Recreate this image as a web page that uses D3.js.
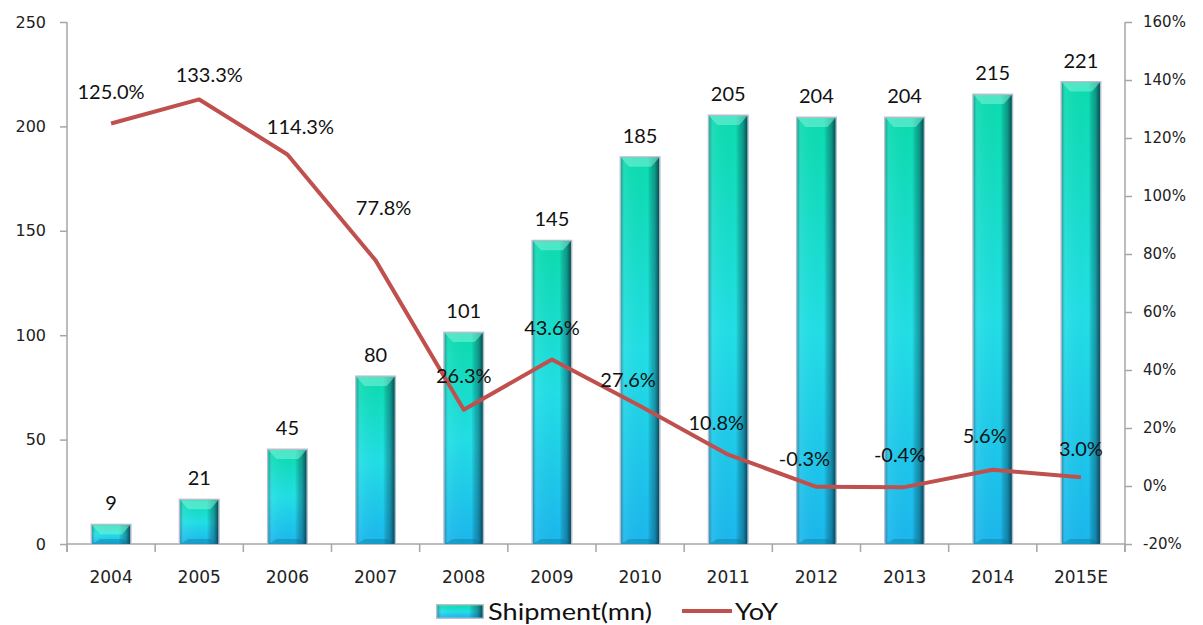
<!DOCTYPE html>
<html><head><meta charset="utf-8">
<script src="https://cdn.jsdelivr.net/npm/d3@7"></script>
<style>
body{margin:0;background:#fff;}
svg{display:block;}
</style></head>
<body>
<svg id="chart" width="1203" height="625"></svg>
<script>
const categories = ["2004","2005","2006","2007","2008","2009","2010","2011","2012","2013","2014","2015E"];
const shipment = [9,21,45,80,101,145,185,205,204,204,215,221];
const yoy = [125.0,133.3,114.3,77.8,26.3,43.6,27.6,10.8,-0.3,-0.4,5.6,3.0];
const leftTicks = [0,50,100,150,200,250];
const rightTicks = [-20,0,20,40,60,80,100,120,140,160];
const seriesNames = ["Shipment(mn)","YoY"];
// manual nudges of YoY labels (dx, dy) as placed in the original
const yoyLabelNudge = [[0,-32],[10,-24],[13,-28],[8,-52],[0,-34],[0,-32],[-12,-26],[-12,-32],[-12,-28],[-5,-32],[-8,-34],[0,-28]];

const svg = d3.select("#chart");
const X0 = 67, X1 = 1125, Y0 = 544, Y1 = 22;
const x = d3.scaleBand().domain(categories).range([X0, X1]);
const yL = d3.scaleLinear().domain([0,250]).range([Y0, Y1]);
const yR = d3.scaleLinear().domain([-20,160]).range([Y0, Y1]);

const defs = svg.append("defs");
const gv = defs.append("linearGradient").attr("id","gv").attr("x1",0).attr("y1",0).attr("x2",0).attr("y2",1);
gv.append("stop").attr("offset","0%").attr("stop-color","#0cdcae");
gv.append("stop").attr("offset","50%").attr("stop-color","#22dfe6");
gv.append("stop").attr("offset","100%").attr("stop-color","#1bb7ee");
const gh = defs.append("linearGradient").attr("id","gh").attr("x1",0).attr("y1",0).attr("x2",1).attr("y2",0);
gh.append("stop").attr("offset","0%").attr("stop-color","#0a3c50").attr("stop-opacity",0.35);
gh.append("stop").attr("offset","12%").attr("stop-color","#ffffff").attr("stop-opacity",0.05);
gh.append("stop").attr("offset","70%").attr("stop-color","#000").attr("stop-opacity",0);
gh.append("stop").attr("offset","88%").attr("stop-color","#0a3c50").attr("stop-opacity",0.4);
gh.append("stop").attr("offset","100%").attr("stop-color","#062a35").attr("stop-opacity",0.8);

// axes
const axisColor = "#a6a6a6";
const gAx = svg.append("g");
const leftAxis = d3.axisLeft(yL).tickValues(leftTicks).tickSize(7).tickPadding(14);
gAx.append("g").attr("transform",`translate(${X0},0)`).call(leftAxis)
  .call(g=>{g.select(".domain").attr("stroke",axisColor).attr("stroke-width",1.5).attr("d",`M0,${Y1}V${Y0+8}`);
    g.selectAll(".tick line").attr("stroke",axisColor).attr("stroke-width",1.5);
    g.selectAll(".tick text").attr("fill","#222").style("font-family","DejaVu Sans").style("font-size","16px");});
const rightAxis = d3.axisRight(yR).tickValues(rightTicks).tickSize(7).tickPadding(11).tickFormat(d=>d+"%");
gAx.append("g").attr("transform",`translate(${X1},0)`).call(rightAxis)
  .call(g=>{g.select(".domain").attr("stroke",axisColor).attr("stroke-width",1.5).attr("d",`M0,${Y1}V${Y0+8}`);
    g.selectAll(".tick line").attr("stroke",axisColor).attr("stroke-width",1.5);
    g.selectAll(".tick text").attr("fill","#222").style("font-family","DejaVu Sans").style("font-size","15px");});
// category axis
const gx = gAx.append("g").attr("transform",`translate(0,${Y0})`);
gx.append("line").attr("x1",X0).attr("x2",X1).attr("stroke",axisColor).attr("stroke-width",1.5);
const bounds = categories.map(c=>x(c)).concat([X1]);
gx.selectAll("line.tk").data(bounds).join("line").attr("class","tk")
  .attr("x1",d=>d).attr("x2",d=>d).attr("y1",0).attr("y2",8).attr("stroke",axisColor).attr("stroke-width",1.5);
gx.selectAll("text").data(categories).join("text")
  .attr("x",d=>x(d)+x.bandwidth()/2).attr("y",39).attr("text-anchor","middle")
  .style("font-family","DejaVu Sans").style("font-size","17px").attr("fill","#222").text(d=>d);

// bars
const bw = 38;
const gb = svg.append("g");
categories.forEach((c,i)=>{
  const cx = x(c)+x.bandwidth()/2, top = yL(shipment[i]), h = Y0-top, l = cx-bw/2;
  const g = gb.append("g");
  g.append("rect").attr("x",l-1.5).attr("y",top-1.5).attr("width",bw+3).attr("height",h+1.5).attr("fill","#b8bccb");
  g.append("rect").attr("x",l).attr("y",top).attr("width",bw).attr("height",h).attr("fill","url(#gv)");
  g.append("rect").attr("x",l).attr("y",top).attr("width",bw).attr("height",h).attr("fill","url(#gh)");
  const bv = Math.min(9, h/2);
  g.append("path").attr("d",`M${l},${top}H${l+bw}L${l+bw-8},${top+bv}H${l+8}Z`).attr("fill","#7ff3da").attr("opacity",0.55);
  g.append("path").attr("d",`M${l},${Y0}H${l+bw}L${l+bw-8},${Y0-Math.min(5,h/3)}H${l+8}Z`).attr("fill","#0b6d8a").attr("opacity",0.35);
  g.append("text").attr("x",cx).attr("y",top-15).attr("text-anchor","middle")
    .style("font-family","Lato, 'Open Sans', sans-serif").style("font-size","20px").attr("fill","#111").text(shipment[i]);
});

// line
const line = d3.line().x((d,i)=>x(categories[i])+x.bandwidth()/2).y(d=>yR(d));
svg.append("path").datum(yoy).attr("d",line).attr("fill","none").attr("stroke","#c0504d").attr("stroke-width",4).attr("stroke-linejoin","round");
svg.append("g").selectAll("text").data(yoy).join("text")
  .attr("x",(d,i)=>x(categories[i])+x.bandwidth()/2+yoyLabelNudge[i][0])
  .attr("y",(d,i)=>yR(d)+yoyLabelNudge[i][1]+7)
  .attr("text-anchor","middle").style("font-family","Lato, 'Open Sans', sans-serif").style("font-size","20px").attr("fill","#111")
  .text(d=>d.toFixed(1)+"%");

// legend
const lg = svg.append("g");
lg.append("rect").attr("x",436).attr("y",604).attr("width",48).attr("height",15).attr("fill","#b8bccb");
lg.append("rect").attr("x",437.5).attr("y",605.5).attr("width",45).attr("height",12).attr("fill","url(#gv)");
lg.append("rect").attr("x",437.5).attr("y",605.5).attr("width",45).attr("height",12).attr("fill","url(#gh)");
lg.append("text").attr("x",488).attr("y",620).attr("textLength",164).attr("lengthAdjust","spacingAndGlyphs")
  .style("font-family","Lato, 'Open Sans', sans-serif").style("font-size","24px").attr("fill","#111").text(seriesNames[0]);
lg.append("line").attr("x1",682).attr("x2",732).attr("y1",611).attr("y2",611).attr("stroke","#c0504d").attr("stroke-width",4);
lg.append("text").attr("x",735).attr("y",620).attr("textLength",43).attr("lengthAdjust","spacingAndGlyphs")
  .style("font-family","Lato, 'Open Sans', sans-serif").style("font-size","24px").attr("fill","#111").text(seriesNames[1]);
</script>
</body></html>
